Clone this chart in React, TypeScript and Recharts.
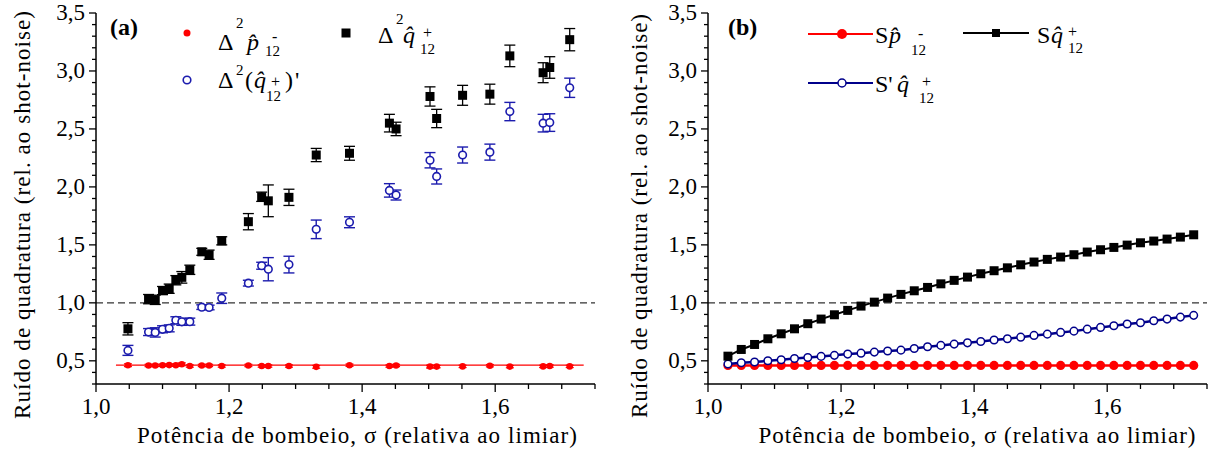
import React from "react";
import { ScatterChart, Scatter, XAxis, YAxis, ErrorBar, ReferenceLine } from "recharts";

// (a) measured noise vs pump power
const sigmaA = [1.048, 1.079, 1.089, 1.1, 1.11, 1.12, 1.129, 1.141, 1.159, 1.17, 1.189, 1.229, 1.249, 1.259, 1.29, 1.331, 1.381, 1.441, 1.451, 1.502, 1.512, 1.551, 1.592, 1.622, 1.672, 1.682, 1.712];
const pMinus = [0.462, 0.46, 0.46, 0.462, 0.463, 0.462, 0.47, 0.455, 0.46, 0.46, 0.455, 0.46, 0.455, 0.455, 0.455, 0.448, 0.462, 0.455, 0.46, 0.45, 0.45, 0.452, 0.458, 0.45, 0.452, 0.455, 0.452];
const pMinusErr = [0.012, 0.01, 0.01, 0.01, 0.01, 0.01, 0.012, 0.01, 0.01, 0.01, 0.01, 0.01, 0.01, 0.01, 0.01, 0.012, 0.01, 0.01, 0.01, 0.012, 0.01, 0.01, 0.01, 0.01, 0.01, 0.01, 0.01];
const qPlus = [0.776, 1.032, 1.026, 1.106, 1.122, 1.195, 1.22, 1.285, 1.44, 1.415, 1.535, 1.7, 1.915, 1.88, 1.91, 2.275, 2.29, 2.55, 2.5, 2.78, 2.59, 2.79, 2.8, 3.13, 2.985, 3.03, 3.27];
const qPlusErr = [0.053, 0.04, 0.04, 0.035, 0.04, 0.04, 0.05, 0.04, 0.03, 0.04, 0.035, 0.07, 0.04, 0.137, 0.07, 0.057, 0.06, 0.076, 0.058, 0.083, 0.079, 0.086, 0.086, 0.093, 0.086, 0.093, 0.096];
const qPrime = [0.59, 0.748, 0.745, 0.772, 0.78, 0.85, 0.836, 0.838, 0.963, 0.96, 1.04, 1.17, 1.32, 1.29, 1.33, 1.634, 1.695, 1.97, 1.93, 2.23, 2.09, 2.275, 2.3, 2.65, 2.55, 2.555, 2.855];
const qPrimeErr = [0.043, 0.03, 0.04, 0.03, 0.03, 0.03, 0.03, 0.03, 0.02, 0.02, 0.045, 0.025, 0.03, 0.1, 0.072, 0.08, 0.047, 0.058, 0.043, 0.066, 0.065, 0.069, 0.069, 0.079, 0.076, 0.076, 0.083];
const fitSigma = [1.03, 1.733];
const fitP = [0.463, 0.463];

// (b) theory curves
const sigmaB = [1.03, 1.05, 1.07, 1.09, 1.11, 1.13, 1.15, 1.17, 1.19, 1.21, 1.23, 1.25, 1.27, 1.29, 1.31, 1.33, 1.35, 1.37, 1.39, 1.41, 1.43, 1.45, 1.47, 1.49, 1.51, 1.53, 1.55, 1.57, 1.59, 1.61, 1.63, 1.65, 1.67, 1.69, 1.71, 1.73];
const sP = [0.46, 0.46, 0.46, 0.46, 0.46, 0.46, 0.46, 0.46, 0.46, 0.46, 0.46, 0.46, 0.46, 0.46, 0.46, 0.46, 0.46, 0.46, 0.46, 0.46, 0.46, 0.46, 0.46, 0.46, 0.46, 0.46, 0.46, 0.46, 0.46, 0.46, 0.46, 0.46, 0.46, 0.46, 0.46, 0.46];
const sQ = [0.54, 0.598, 0.641, 0.69, 0.733, 0.776, 0.82, 0.86, 0.897, 0.935, 0.972, 1.006, 1.041, 1.073, 1.104, 1.133, 1.164, 1.194, 1.222, 1.251, 1.277, 1.302, 1.328, 1.352, 1.375, 1.395, 1.415, 1.438, 1.458, 1.478, 1.498, 1.518, 1.533, 1.55, 1.567, 1.587];
const sQPrime = [0.472, 0.483, 0.49, 0.5, 0.509, 0.52, 0.529, 0.538, 0.547, 0.558, 0.566, 0.575, 0.584, 0.592, 0.606, 0.621, 0.633, 0.644, 0.655, 0.667, 0.679, 0.69, 0.704, 0.719, 0.73, 0.745, 0.756, 0.773, 0.788, 0.802, 0.817, 0.828, 0.845, 0.86, 0.877, 0.892];

// axes
const xTicks = [1.0, 1.05, 1.1, 1.15, 1.2, 1.25, 1.3, 1.35, 1.4, 1.45, 1.5, 1.55, 1.6, 1.65, 1.7, 1.75];
const xMajor = [1.0, 1.2, 1.4, 1.6];
const yTicks = [0.3, 0.4, 0.5, 0.6, 0.7, 0.8, 0.9, 1.0, 1.1, 1.2, 1.3, 1.4, 1.5, 1.6, 1.7, 1.8, 1.9, 2.0, 2.1, 2.2, 2.3, 2.4, 2.5, 2.6, 2.7, 2.8, 2.9, 3.0, 3.1, 3.2, 3.3, 3.4, 3.5];
const yMajor = [0.5, 1.0, 1.5, 2.0, 2.5, 3.0, 3.5];

const SERIF = "Liberation Serif";
const W = 611;
const H = 457;
const BLUE_A = "#1c1cae";
const NAVY = "#00008b";
const RED = "#ff0000";

const fmt = (v: number) => v.toFixed(1).replace(".", ",");
const isIn = (list: number[], v: number) => list.some((m) => Math.abs(m - v) < 1e-6);

const zip = (xs: number[], ys: number[], errs?: number[]) =>
  xs.map((x, i) => ({ x, y: ys[i], err: errs ? errs[i] : 0 }));

function XTick({ x, y, payload }: any) {
  const major = isIn(xMajor, payload.value);
  return (
    <g>
      <line x1={x} x2={x} y1={y} y2={y + (major ? 8 : 5)} stroke="#000" strokeWidth={1.3} />
      {major && (
        <text x={x} y={y + 30} textAnchor="middle" fontFamily={SERIF} fontSize={23} fill="#000">
          {fmt(payload.value)}
        </text>
      )}
    </g>
  );
}

function YTick({ x, y, payload }: any) {
  const major = isIn(yMajor, payload.value);
  return (
    <g>
      <line x1={x} x2={x - (major ? 7 : 4)} y1={y} y2={y} stroke="#000" strokeWidth={1.3} />
      {major && (
        <text x={x - 11} y={y + 7} textAnchor="end" fontFamily={SERIF} fontSize={23} fill="#000">
          {fmt(payload.value)}
        </text>
      )}
    </g>
  );
}

const square = (size: number, fill: string) => (p: any) =>
  <rect x={p.cx - size / 2} y={p.cy - size / 2} width={size} height={size} fill={fill} />;
const dot = (r: number, fill: string) => (p: any) => <circle cx={p.cx} cy={p.cy} r={r} fill={fill} />;
const ring = (r: number, stroke: string, sw: number) => (p: any) =>
  <circle cx={p.cx} cy={p.cy} r={r} fill="#fff" stroke={stroke} strokeWidth={sw} />;
const none = () => <g />;

function Axes() {
  return (
    <>
      <XAxis
        type="number"
        dataKey="x"
        domain={[1.0, 1.75]}
        ticks={xTicks}
        interval={0}
        allowDataOverflow
        height={73}
        tickSize={0}
        tickMargin={0}
        tickLine={false}
        axisLine={{ stroke: "#000", strokeWidth: 1.5 }}
        tick={(p: any) => <XTick {...p} />}
      />
      <YAxis
        type="number"
        dataKey="y"
        domain={[0.3, 3.5]}
        ticks={yTicks}
        interval={0}
        allowDataOverflow
        width={96}
        tickSize={0}
        tickMargin={0}
        tickLine={false}
        axisLine={{ stroke: "#000", strokeWidth: 1.5 }}
        tick={(p: any) => <YTick {...p} />}
      />
      <ReferenceLine y={1} stroke="#333" strokeWidth={1.4} strokeDasharray="7 4" />
    </>
  );
}

const margin = { top: 13, right: 16, bottom: 0, left: 0 };

function PanelA() {
  return (
    <ScatterChart width={W} height={H} margin={margin}>
      {Axes()}
      <Scatter data={zip(fitSigma, fitP)} line={{ stroke: RED, strokeWidth: 1.4 }} shape={none} isAnimationActive={false} />
      <Scatter data={zip(sigmaA, pMinus, pMinusErr)} shape={dot(3.3, RED)} isAnimationActive={false}>
        <ErrorBar dataKey="err" direction="y" width={4} stroke={RED} strokeWidth={1.2} />
      </Scatter>
      <Scatter data={zip(sigmaA, qPrime, qPrimeErr)} shape={ring(3.8, BLUE_A, 1.6)} isAnimationActive={false}>
        <ErrorBar dataKey="err" direction="y" width={5.5} stroke={BLUE_A} strokeWidth={1.4} />
      </Scatter>
      <Scatter data={zip(sigmaA, qPlus, qPlusErr)} shape={square(9, "#000")} isAnimationActive={false}>
        <ErrorBar dataKey="err" direction="y" width={5.5} stroke="#000" strokeWidth={1.3} />
      </Scatter>
    </ScatterChart>
  );
}

function PanelB() {
  return (
    <ScatterChart width={W} height={H} margin={margin}>
      {Axes()}
      <Scatter data={zip(sigmaB, sP)} line={{ stroke: RED, strokeWidth: 2.5 }} lineType="joint" shape={dot(4.6, RED)} isAnimationActive={false} />
      <Scatter data={zip(sigmaB, sQPrime)} line={{ stroke: NAVY, strokeWidth: 2.5 }} lineType="joint" shape={ring(3.8, NAVY, 1.5)} isAnimationActive={false} />
      <Scatter data={zip(sigmaB, sQ)} line={{ stroke: "#000", strokeWidth: 2 }} lineType="joint" shape={square(9, "#000")} isAnimationActive={false} />
    </ScatterChart>
  );
}

const T = ({ x, y, size = 24, italic, bold, children, ...rest }: any) => (
  <text
    x={x}
    y={y}
    fill="#000"
    fontFamily={SERIF}
    fontSize={size}
    fontStyle={italic ? "italic" : "normal"}
    fontWeight={bold ? "bold" : "normal"}
    {...rest}
  >
    {children}
  </text>
);

function Overlay() {
  return (
    <svg width={1223} height={H} style={{ position: "absolute", left: 0, top: 0, pointerEvents: "none" }}>
      {/* axis titles */}
      <T x={357} y={443} size={23} textAnchor="middle" textLength={440} lengthAdjust="spacing">Potência de bombeio, σ (relativa ao limiar)</T>
      <T x={0} y={0} size={23} textAnchor="middle" textLength={408} lengthAdjust="spacing" transform="translate(30 215) rotate(-90)">Ruído de quadratura (rel. ao shot-noise)</T>
      <T x={977} y={443} size={23} textAnchor="middle" textLength={437} lengthAdjust="spacing">Potência de bombeio, σ (relativa ao limiar)</T>
      <T x={0} y={0} size={23} textAnchor="middle" textLength={404} lengthAdjust="spacing" transform="translate(647 216) rotate(-90)">Ruído de quadratura (rel. ao shot-noise)</T>

      {/* (a) */}
      <T x={110} y={35} bold>(a)</T>
      <circle cx={187} cy={33} r={3.5} fill={RED} />
      <T x={218} y={50}>Δ</T>
      <T x={236} y={28} size={15}>2</T>
      <T x={247} y={50} italic>p̂</T>
      <T x={272} y={42} size={16}>-</T>
      <T x={265} y={56} size={15}>12</T>

      <circle cx={187} cy={80} r={3.8} fill="#fff" stroke={BLUE_A} strokeWidth={1.6} />
      <T x={218} y={88}>Δ</T>
      <T x={236} y={75} size={15}>2</T>
      <T x={245} y={88}>(</T>
      <T x={254} y={88} italic>q̂</T>
      <T x={271} y={87} size={16}>+</T>
      <T x={266} y={101} size={15}>12</T>
      <T x={285} y={88}>)</T>
      <T x={295} y={88}>'</T>

      <rect x={341.5} y={28.5} width={9} height={9} fill="#000" />
      <T x={378} y={43}>Δ</T>
      <T x={396} y={24} size={15}>2</T>
      <T x={403} y={43} italic>q̂</T>
      <T x={423} y={38} size={16}>+</T>
      <T x={420} y={54} size={15}>12</T>

      {/* (b) */}
      <T x={728} y={35} bold>(b)</T>
      <line x1={808} x2={873} y1={34} y2={34} stroke={RED} strokeWidth={2} />
      <circle cx={842} cy={34} r={5} fill={RED} />
      <T x={875} y={43}>S</T>
      <T x={889} y={43} italic>p̂</T>
      <T x={918} y={39} size={16}>-</T>
      <T x={911} y={55} size={15}>12</T>

      <line x1={808} x2={873} y1={83} y2={83} stroke={NAVY} strokeWidth={2} />
      <circle cx={842} cy={83} r={4} fill="#fff" stroke={NAVY} strokeWidth={1.5} />
      <T x={875} y={92}>S'</T>
      <T x={897} y={92} italic>q̂</T>
      <T x={922} y={87} size={16}>+</T>
      <T x={919} y={103} size={15}>12</T>

      <line x1={963} x2={1029} y1={33} y2={33} stroke="#000" strokeWidth={2} />
      <rect x={992} y={29} width={8} height={8} fill="#000" />
      <T x={1037} y={43}>S</T>
      <T x={1051} y={43} italic>q̂</T>
      <T x={1068} y={37} size={16}>+</T>
      <T x={1068} y={53} size={15}>12</T>
    </svg>
  );
}

export default function App() {
  return (
    <div style={{ position: "absolute", left: 0, top: 0, width: 1223, height: H, background: "#fff", fontFamily: SERIF }}>
      <style>{"svg text { font-family: 'Liberation Serif', 'Times New Roman', serif !important; }"}</style>
      <div style={{ position: "absolute", left: 0, top: 0 }}>
        <PanelA />
      </div>
      <div style={{ position: "absolute", left: 612, top: 0 }}>
        <PanelB />
      </div>
      <Overlay />
    </div>
  );
}
